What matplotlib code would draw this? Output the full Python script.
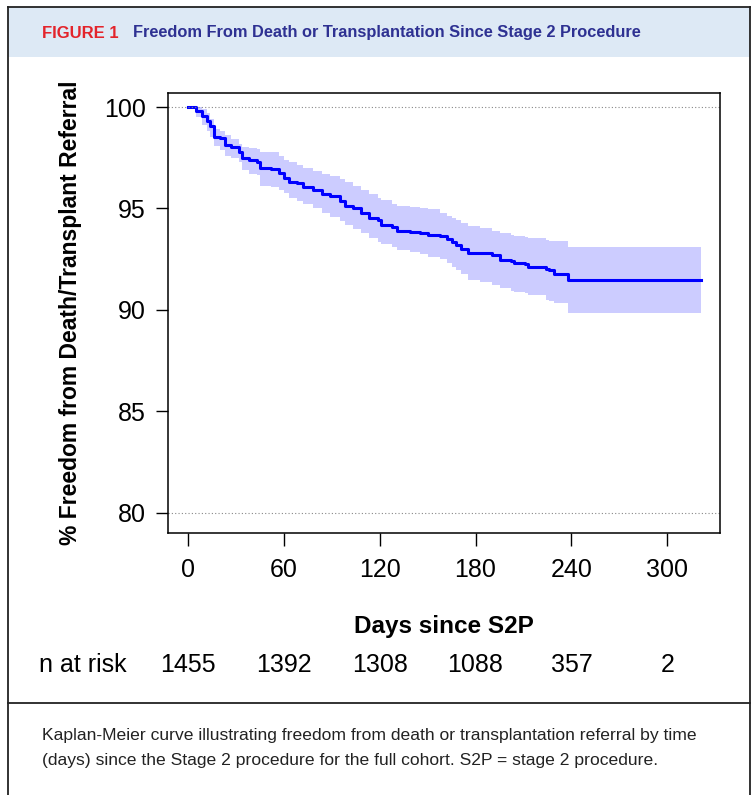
import matplotlib
matplotlib.use("Agg")
import matplotlib.pyplot as plt
from matplotlib.patches import Rectangle
from matplotlib.lines import Line2D

# ---- data ----
days = [0, 5, 9, 12, 14, 16, 20, 23, 27, 32, 34, 38, 43, 45, 52, 57, 60, 63, 68, 72,
        78, 84, 89, 95, 98, 103, 108, 113, 119, 121, 128, 131, 139, 145, 150, 158,
        162, 165, 168, 171, 175, 183, 190, 195, 202, 204, 211, 213, 224, 226, 229,
        238, 321]
surv = [100, 99.8, 99.55, 99.3, 99.05, 98.5, 98.45, 98.15, 98.05, 97.8, 97.5, 97.4,
        97.3, 97.0, 96.95, 96.75, 96.5, 96.3, 96.25, 96.05, 95.9, 95.72, 95.6, 95.35,
        95.1, 95.0, 94.8, 94.55, 94.45, 94.2, 94.1, 93.9, 93.85, 93.78, 93.7, 93.65,
        93.5, 93.35, 93.2, 93.0, 92.83, 92.79, 92.7, 92.46, 92.4, 92.3, 92.27, 92.13,
        92.0, 91.95, 91.77, 91.48, 91.48]
upper = [100, 100, 99.9, 99.7, 99.4, 98.9, 98.8, 98.6, 98.4, 98.2, 98.05, 98.0, 97.95,
         97.8, 97.8, 97.6, 97.4, 97.3, 97.15, 97.0, 96.85, 96.7, 96.6, 96.45, 96.3,
         96.1, 95.9, 95.7, 95.5, 95.4, 95.2, 95.1, 95.05, 95.0, 94.95, 94.8, 94.65,
         94.55, 94.45, 94.3, 94.15, 94.03, 93.9, 93.8, 93.7, 93.65, 93.6, 93.55, 93.45,
         93.42, 93.38, 93.09, 93.09]
lower = [100, 99.5, 99.1, 98.8, 98.5, 98.1, 97.9, 97.6, 97.5, 97.3, 96.9, 96.7, 96.65,
         96.1, 96.05, 95.9, 95.76, 95.5, 95.35, 95.2, 95.0, 94.8, 94.6, 94.4, 94.2,
         94.0, 93.8, 93.55, 93.35, 93.25, 93.1, 92.95, 92.85, 92.75, 92.6, 92.5, 92.3,
         92.1, 91.95, 91.75, 91.5, 91.4, 91.25, 91.08, 90.95, 90.9, 90.83, 90.75, 90.5,
         90.45, 90.35, 89.87, 89.87]
xticks = [0, 60, 120, 180, 240, 300]
yticks = [80, 85, 90, 95, 100]
n_at_risk = ["1455", "1392", "1308", "1088", "357", "2"]

FONT = "Liberation Sans"
W, H = 756, 795
fig = plt.figure(figsize=(W / 100, H / 100), dpi=100)
fig.patch.set_facecolor("white")

def fx(px): return px / W
def fy(py): return 1 - py / H

# header band & frame
fig.patches.append(Rectangle((fx(8), fy(57)), fx(742), 50 / H, transform=fig.transFigure,
                             facecolor="#dde9f5", edgecolor="none", zorder=0))
for seg in [((8, 8), (7, 795)), ((750, 750), (7, 795)), ((8, 750), (7, 7)), ((8, 750), (703, 703))]:
    fig.lines.append(Line2D([fx(seg[0][0]), fx(seg[0][1])], [fy(seg[1][0]), fy(seg[1][1])],
                            transform=fig.transFigure, color="#222222", lw=1.3))

fig.text(fx(42), fy(33), "FIGURE 1", color="#e3242b", fontsize=12,
         fontweight="bold", family=FONT, va="center", ha="left")
fig.text(fx(133), fy(33), "Freedom From Death or Transplantation Since Stage 2 Procedure",
         color="#2e3192", fontsize=11.8, fontweight="bold", family=FONT, va="center", ha="left")

cap = ("Kaplan-Meier curve illustrating freedom from death or transplantation referral by time\n"
       "(days) since the Stage 2 procedure for the full cohort. S2P = stage 2 procedure.")
fig.text(fx(42), fy(748), cap, fontsize=12.6, family=FONT, va="center", ha="left",
         color="#222222", linespacing=1.85)

ax = fig.add_axes([fx(168), fy(533), fx(720) - fx(168), (533 - 93) / H])
ax.fill_between(days, lower, upper, step="post", color="#ccccff", lw=0)
ax.step(days, surv, where="post", color="#0000ff", lw=2.2)
ax.axhline(100, color="#888888", ls=(0, (1, 2)), lw=0.8)
ax.axhline(80, color="#888888", ls=(0, (1, 2)), lw=0.8)

ax.set_xlim(-12.5, 333)
ax.set_ylim(79.01, 100.69)
ax.set_xticks(xticks)
ax.set_yticks(yticks)
ax.tick_params(direction="out", length=9, width=1, labelsize=18)
ax.tick_params(axis="x", pad=9)
ax.tick_params(axis="y", pad=7)
for lab in ax.get_xticklabels() + ax.get_yticklabels():
    lab.set_family(FONT)
for s in ax.spines.values():
    s.set_linewidth(1.1)

ax.set_ylabel("% Freedom from Death/Transplant Referral", fontsize=16.5, fontweight="bold",
              family=FONT, labelpad=16)
ax.set_xlabel("Days since S2P", fontsize=17.5, fontweight="bold", family=FONT,
              labelpad=24)

fig.text(fx(83), fy(665), "n at risk", fontsize=18, family=FONT, ha="center", va="center")
for d, n in zip(xticks, n_at_risk):
    px = ax.transData.transform((d, 0))[0]
    fig.text(px / W, fy(665), n, fontsize=18, family=FONT, ha="center", va="center")

fig.savefig("out.png", dpi=100)
